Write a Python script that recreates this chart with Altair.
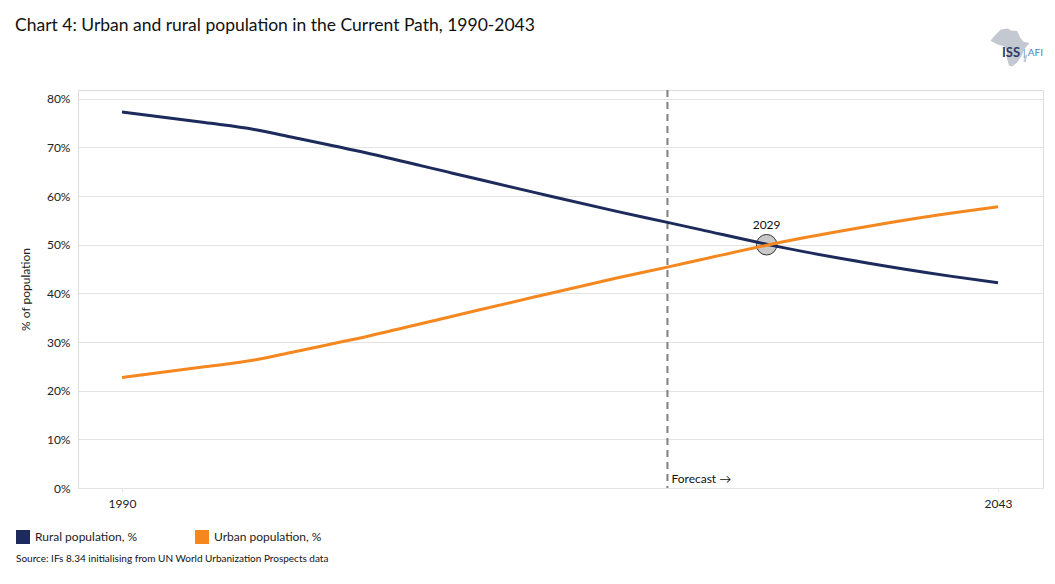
import altair as alt
import pandas as pd

years = [1990, 1995, 1998, 2000, 2005, 2010, 2015, 2020, 2023, 2025, 2029, 2030, 2035, 2040, 2043]
rural = [77.3, 75.1, 73.7, 72.3, 68.7, 64.7, 60.7, 56.8, 54.6, 53.1, 50.1, 49.4, 46.3, 43.6, 42.2]
urban = [22.7, 24.9, 26.3, 27.7, 31.3, 35.3, 39.3, 43.2, 45.4, 46.9, 49.9, 50.6, 53.7, 56.4, 57.8]
series_names = ["Rural population, %", "Urban population, %"]
series_colors = ["#1c2a5c", "#f5871f"]
forecast_year = [2023]
forecast_label = ["Forecast \u2192"]
cross_year = [2029]
cross_value = [50.0]
cross_label = ["2029"]
y_ticks = [0, 10, 20, 30, 40, 50, 60, 70, 80]
x_ticks = [1990, 2043]
title_text = "Chart 4: Urban and rural population in the Current Path, 1990-2043"
source_text = "Source: IFs 8.34 initialising from UN World Urbanization Prospects data"

FONT = "Lato"

rows = []
for y, r, u in zip(years, rural, urban):
    rows.append({"year": y, "value": r, "series": series_names[0]})
    rows.append({"year": y, "value": u, "series": series_names[1]})
df = pd.DataFrame(rows)

fc_df = pd.DataFrame({"year": forecast_year, "label": forecast_label})
cr_df = pd.DataFrame({"year": cross_year, "value": cross_value, "label": cross_label})

xscale = alt.Scale(domain=[1987.34, 2045.72], nice=False, zero=False)
yscale = alt.Scale(domain=[0, 81.8], nice=False)
cscale = alt.Scale(domain=series_names, range=series_colors)

x_enc = alt.X("year:Q", scale=xscale,
              axis=alt.Axis(values=x_ticks, format="d", grid=False, domain=False,
                            ticks=True, tickColor="#e4e4e4", tickSize=4,
                            labelPadding=6, labelFontSize=12, labelColor="#222222",
                            labelFont=FONT, title=None))
y_enc = alt.Y("value:Q", scale=yscale,
              axis=alt.Axis(values=y_ticks, labelExpr="datum.value + '%'", grid=True,
                            gridColor="#e3e3e3", gridWidth=1, domain=False, ticks=False,
                            labelPadding=8, labelFontSize=12, labelColor="#222222",
                            labelFont=FONT, title="% of population", titleFont=FONT,
                            titleFontSize=12, titleFontWeight="normal", titleColor="#222222",
                            titleX=-46, titleY=199, titleAngle=-90, titleAlign="center"))

forecast_rule = alt.Chart(fc_df).mark_rule(color="#808080", strokeWidth=2, strokeDash=[7, 5]).encode(
    x=alt.X("year:Q", scale=xscale), y=alt.value(0), y2=alt.value(398))
forecast_text = alt.Chart(fc_df).mark_text(align="left", baseline="middle", dx=4, fontSize=12,
                                           font=FONT, color="#111111").encode(
    x=alt.X("year:Q", scale=xscale), y=alt.value(389), text="label:N")

cross_pt = alt.Chart(cr_df).mark_point(shape="circle", filled=True, fill="#c8c8c8", stroke="#333333",
                                       strokeWidth=1, size=420, opacity=1).encode(
    x=alt.X("year:Q", scale=xscale), y=alt.Y("value:Q", scale=yscale))
cross_text = alt.Chart(cr_df).mark_text(baseline="middle", dy=-20, fontSize=12, font=FONT,
                                        color="#111111").encode(
    x=alt.X("year:Q", scale=xscale), y=alt.Y("value:Q", scale=yscale), text="label:N")

lines = alt.Chart(df).mark_line(strokeWidth=3, interpolate="monotone").encode(
    x=x_enc, y=y_enc,
    color=alt.Color("series:N", scale=cscale,
                    legend=alt.Legend(orient="none", legendX=-62, legendY=440,
                                      direction="horizontal", title=None,
                                      symbolType="square", symbolSize=36,
                                      symbolStrokeWidth=8, symbolOpacity=1,
                                      labelFontSize=12, labelFont=FONT, labelColor="#222222",
                                      columnPadding=45, labelOffset=5)),
    detail="series:N")

title_df = pd.DataFrame({"t": [title_text]})
title = alt.Chart(title_df).mark_text(align="left", baseline="alphabetic", fontSize=17.5, font=FONT,
                                      color="#111111").encode(
    x=alt.value(-63), y=alt.value(-59), text="t:N")

src_df = pd.DataFrame({"t": [source_text]})
source = alt.Chart(src_df).mark_text(align="left", baseline="middle", fontSize=10, font=FONT,
                                     color="#111111").encode(
    x=alt.value(-62), y=alt.value(469), text="t:N")

africa = ("M -0.75 -0.55 L -0.45 -0.85 L -0.1 -0.9 L 0.05 -0.8 L 0.35 -0.78 L 0.5 -0.45 "
          "L 0.65 -0.25 L 0.95 -0.2 L 0.7 0.1 L 0.55 0.45 L 0.35 0.75 L 0.1 0.95 L -0.05 0.9 "
          "L -0.15 0.55 L -0.15 0.15 L -0.3 -0.05 L -0.55 -0.1 L -0.95 -0.3 Z "
          "M 0.75 0.4 L 0.85 0.35 L 0.75 0.75 L 0.65 0.7 Z")
logo_df = pd.DataFrame({"k": ["logo"]})
logo_shape = alt.Chart(logo_df).mark_point(shape=africa, filled=True, fill="#c4c8d0", opacity=1,
                                           size=1700, strokeWidth=0).encode(
    x=alt.value(932), y=alt.value(-43))
logo_iss = alt.Chart(pd.DataFrame({"t": ["ISS"]})).mark_text(
    align="left", baseline="middle", fontSize=13, font=FONT, fontWeight="bold",
    color="#2b3a67").encode(x=alt.value(924), y=alt.value(-37), text="t:N")
logo_afi = alt.Chart(pd.DataFrame({"t": ["| AFI"]})).mark_text(
    align="left", baseline="middle", fontSize=10, font=FONT,
    color="#4d86b8").encode(x=alt.value(945), y=alt.value(-37), text="t:N")

chart = alt.layer(
    forecast_rule, cross_pt, lines, forecast_text, cross_text, title, source,
    logo_shape, logo_iss, logo_afi
).properties(
    width=965, height=398,
    padding={"left": 70, "top": 82, "right": 4, "bottom": 80},
    autosize=alt.AutoSizeParams(type="none")
).configure_view(stroke=None).configure(background="white")

chart.save("out.html", embed_options={"renderer": "svg", "actions": False})
